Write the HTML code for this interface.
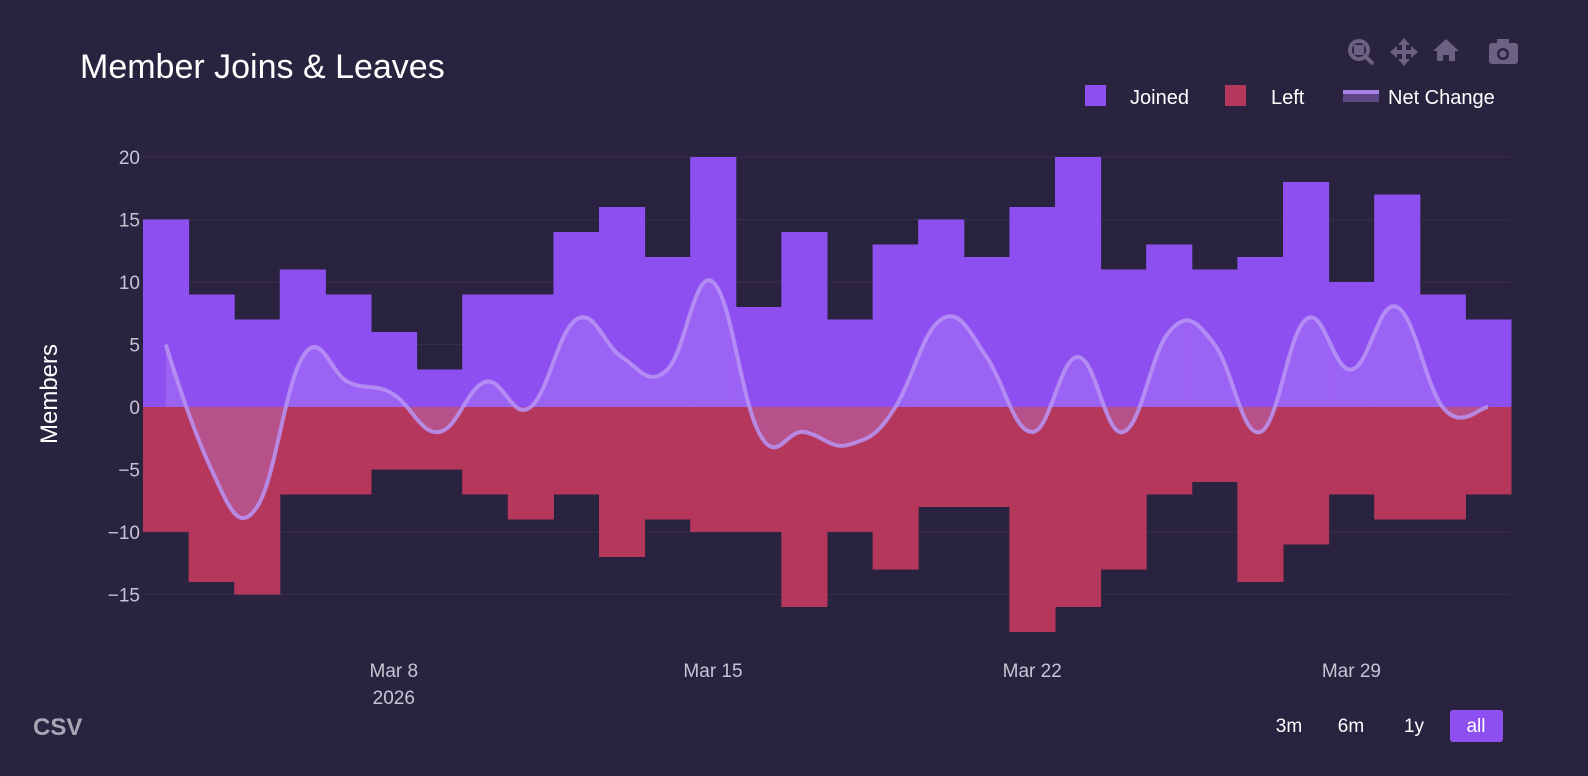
<!DOCTYPE html>
<html><head><meta charset="utf-8"><style>
body{margin:0;background:#2a2340;font-family:"Liberation Sans",sans-serif;}
svg{display:block}
</style></head><body>
<svg id="c" width="1588" height="776">
<rect width="1588" height="776" fill="#2a2340"/>
<text x="80" y="78" fill="#ffffff" font-size="34">Member Joins &amp; Leaves</text>
<g id="grid"></g>
<g id="bars"></g>
<g id="line"></g>
<g id="axes"></g>
<text transform="translate(57,394) rotate(-90)" text-anchor="middle" fill="#ffffff" font-size="24">Members</text>
<g>
<rect x="1085" y="85" width="21" height="21" fill="#8e4ff0"/>
<text x="1130" y="104" fill="#fff" font-size="20">Joined</text>
<rect x="1225" y="85" width="21" height="21" fill="#b5375c"/>
<text x="1271" y="104" fill="#fff" font-size="20">Left</text>
<rect x="1343" y="90" width="36" height="12" fill="#5c4785"/>
<rect x="1343" y="90" width="36" height="4" fill="#a882ea"/>
<text x="1388" y="104" fill="#fff" font-size="20">Net Change</text>
</g>
<g fill="#6b6180">
<g><circle cx="1359" cy="50" r="9" fill="none" stroke="#6b6180" stroke-width="4"/><rect x="1354" y="45" width="10" height="10"/><line x1="1366" y1="57" x2="1373" y2="64" stroke="#6b6180" stroke-width="4"/></g>
<g><path d="M1404 38l6 7h-4v5h5v-4l7 6-7 6v-4h-5v5h4l-6 7-6-7h4v-5h-5v4l-7-6 7-6v4h5v-5h-4z"/></g>
<g><path d="M1446 39l13 12h-4v10h-6v-6h-6v6h-6v-10h-4z"/></g>
<g><rect x="1489" y="43" width="29" height="21" rx="3"/><rect x="1497" y="39" width="12" height="6"/><circle cx="1503" cy="54" r="6" fill="#2a2340"/><circle cx="1503" cy="54" r="3.5"/></g>
</g>
<text x="33" y="735" fill="#a8a3b5" font-size="24" font-weight="bold">CSV</text>
<g font-size="19" fill="#fff" text-anchor="middle">
<text x="1289" y="732">3m</text>
<text x="1351" y="732">6m</text>
<text x="1414" y="732">1y</text>
<rect x="1450" y="710" width="53" height="32" rx="3" fill="#8e4ff0"/>
<text x="1476" y="732">all</text>
</g>
</svg>
<script>
const dates=["Mar 3","Mar 4","Mar 5","Mar 6","Mar 7","Mar 8","Mar 9","Mar 10","Mar 11","Mar 12","Mar 13","Mar 14","Mar 15","Mar 16","Mar 17","Mar 18","Mar 19","Mar 20","Mar 21","Mar 22","Mar 23","Mar 24","Mar 25","Mar 26","Mar 27","Mar 28","Mar 29","Mar 30","Mar 31","Apr 1"];
const joined=[15,9,7,11,9,6,3,9,9,14,16,12,20,8,14,7,13,15,12,16,20,11,13,11,12,18,10,17,9,7];
const left=[-10,-14,-15,-7,-7,-5,-5,-7,-9,-7,-12,-9,-10,-10,-16,-10,-13,-8,-8,-18,-16,-13,-7,-6,-14,-11,-7,-9,-9,-7];
const net=[5,-5,-8,4,2,1,-2,2,0,7,4,3,10,-2,-2,-3,0,7,4,-2,4,-2,6,5,-2,7,3,8,0,0];
const yTicks=[-15,-10,-5,0,5,10,15,20];
const xTickIdx=[5,12,19,26];
const xTickLabels=["Mar 8","Mar 15","Mar 22","Mar 29"];
const NS="http://www.w3.org/2000/svg";
const x0=143,x1=1511,bw=(x1-x0)/dates.length;
const xc=i=>x0+bw*(i+0.5);
const y=v=>407-v*12.5;
function mk(t,a,p){const e=document.createElementNS(NS,t);for(const k in a)e.setAttribute(k,a[k]);document.getElementById(p).appendChild(e);return e;}
yTicks.forEach(v=>{
 const g=mk('line',{x1:x0,x2:x1,y1:y(v),y2:y(v),stroke:'#352d4a','stroke-width':1},'grid');
 
 
 const t=mk('text',{x:140,y:y(v)+7,'text-anchor':'end',fill:'#c8c3d3','font-size':19},'axes');
 
 
 t.textContent=v<0?'\u2212'+Math.abs(v):String(v);
});
xTickIdx.forEach((i,k)=>{
 const t=mk('text',{x:xc(i),y:677,'text-anchor':'middle',fill:'#c8c3d3','font-size':19},'axes');
 
 
 t.textContent=xTickLabels[k];
 if(k===0){const t2=mk('text',{x:xc(i),y:704,'text-anchor':'middle',fill:'#c8c3d3','font-size':19},'axes');
 
 
 t2.textContent='2026';}
});
dates.forEach((d,i)=>{
 const a=mk('rect',{x:x0+bw*i,y:y(joined[i]),width:bw+0.5,height:y(0)-y(joined[i]),fill:'#8e4ff0'},'bars');
 
 
 const b=mk('rect',{x:x0+bw*i,y:y(0),width:bw+0.5,height:y(left[i])-y(0),fill:'#b5375c'},'bars');
 
 
});
const pts=net.map((v,i)=>[xc(i),y(v)]);
let d='M'+pts[0][0]+','+pts[0][1];
const s=0.2;
for(let i=0;i<pts.length-1;i++){
 const p0=pts[Math.max(i-1,0)],p1=pts[i],p2=pts[i+1],p3=pts[Math.min(i+2,pts.length-1)];
 const c1=[p1[0]+(p2[0]-p0[0])*s,p1[1]+(p2[1]-p0[1])*s*1.2];
 const c2=[p2[0]-(p3[0]-p1[0])*s,p2[1]-(p3[1]-p1[1])*s*1.2];
 d+=` C${c1[0]},${c1[1]} ${c2[0]},${c2[1]} ${p2[0]},${p2[1]}`;
}
const f=mk('path',{d:d+` L${pts[pts.length-1][0]},${y(0)} L${pts[0][0]},${y(0)} Z`,fill:'rgba(190,150,255,0.28)'},'line');


const l=mk('path',{d:d,fill:'none',stroke:'#b894f5','stroke-width':4,'stroke-opacity':0.85},'line');


</script>
</body></html>
